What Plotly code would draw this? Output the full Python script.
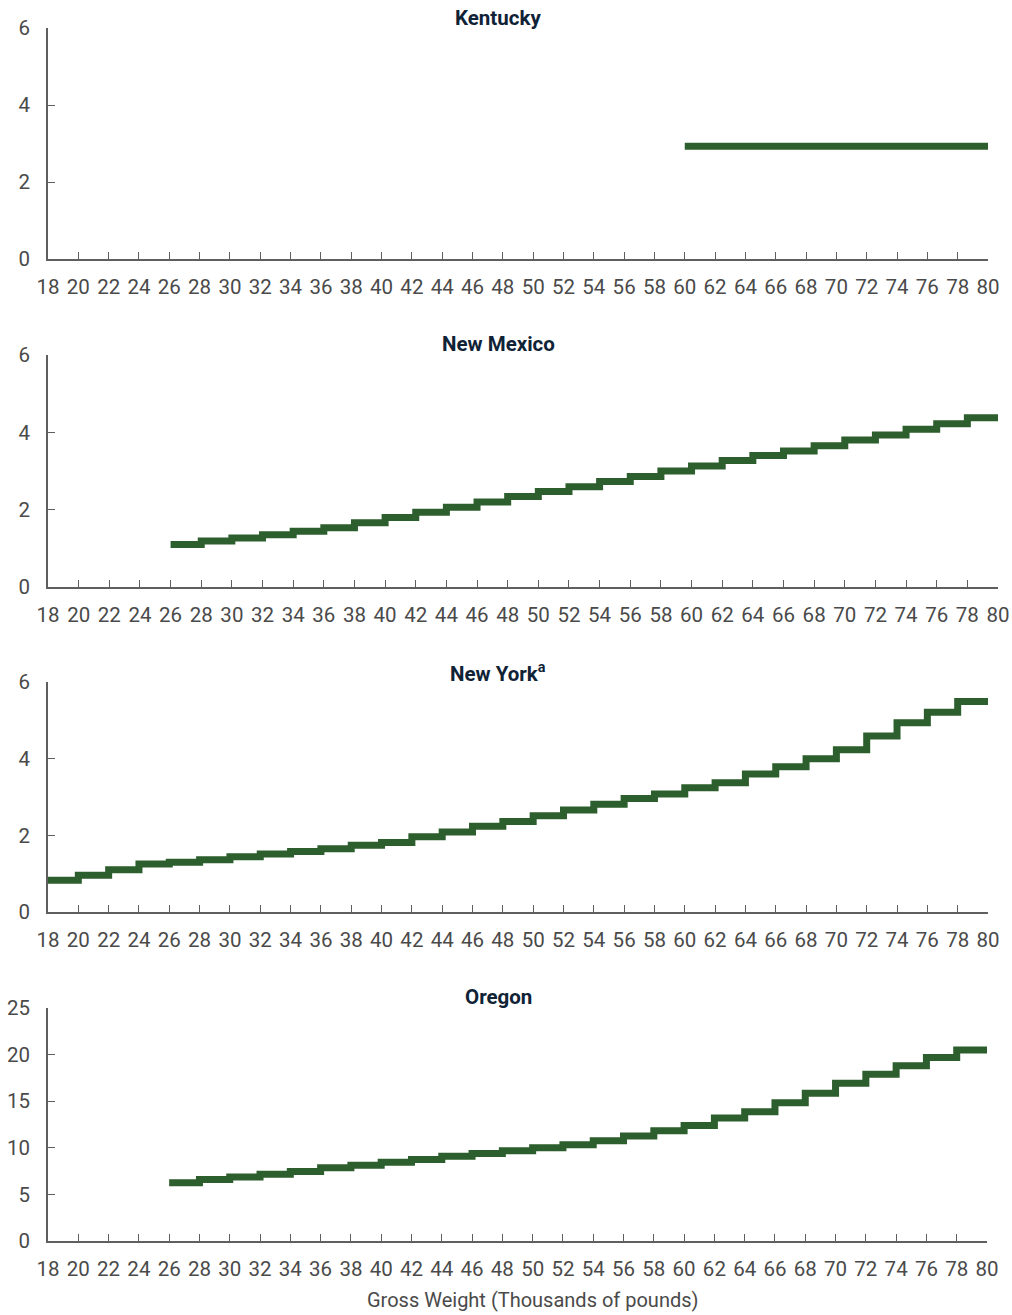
import plotly.graph_objects as go
from plotly.subplots import make_subplots

# Gross weight (thousands of pounds): bracket starts, each bracket spans 2k lbs
weights = list(range(18, 80, 2))  # 18..78
tick_vals = list(range(18, 82, 2))  # 18..80

ky_start = 60
ky_rates = [2.93] * 10  # 60..78

nm_start = 26
nm_rates = [1.10, 1.19, 1.27, 1.35, 1.44, 1.53, 1.66, 1.80, 1.93, 2.06,
            2.20, 2.34, 2.47, 2.59, 2.73, 2.86, 3.00, 3.13, 3.27, 3.40,
            3.52, 3.65, 3.80, 3.93, 4.08, 4.22, 4.38]

ny_start = 18
ny_rates = [0.83, 0.96, 1.10, 1.25, 1.30, 1.36, 1.44, 1.51, 1.58, 1.65,
            1.74, 1.81, 1.96, 2.09, 2.24, 2.36, 2.51, 2.66, 2.81, 2.96,
            3.08, 3.24, 3.37, 3.60, 3.79, 4.00, 4.23, 4.59, 4.94, 5.21, 5.49]

or_start = 26
or_rates = [6.24, 6.60, 6.88, 7.17, 7.46, 7.85, 8.14, 8.46, 8.75, 9.08,
            9.40, 9.68, 10.00, 10.32, 10.75, 11.26, 11.83, 12.40, 13.20, 13.87,
            14.84, 15.85, 16.92, 17.90, 18.80, 19.70, 20.50]

titles = ["Kentucky", "New Mexico", "New York<sup>a</sup>", "Oregon"]
series = [(ky_start, ky_rates), (nm_start, nm_rates), (ny_start, ny_rates), (or_start, or_rates)]
y_ranges = [[0, 6], [0, 6], [0, 6], [0, 25]]
y_dticks = [2, 2, 2, 5]

LINE = "#2c5f2d"
AXIS = "#5f5f5f"
TICKFONT = "#4a4a4a"
TITLE = "#0f2236"
FONT = "Roboto"

fig = make_subplots(rows=4, cols=1)

for i, (start, rates) in enumerate(series):
    xs = [w for w in weights if w >= start][:len(rates)]
    xs = xs + [xs[-1] + 2]
    ys = rates + [rates[-1]]
    fig.add_trace(go.Scatter(x=xs, y=ys, mode="lines", line_shape="hv",
                             line=dict(color=LINE, width=7),
                             showlegend=False, hoverinfo="skip"),
                  row=i + 1, col=1)

# layout geometry (pixels)
W, H = 1012, 1315
ml, mr, mt, mb = 48, 14, 28, 74
pw = W - ml - mr
ph = H - mt - mb
bottom_px = H - mb

def ypap(px):
    return (bottom_px - px) / ph

def xpap(px):
    return (px - ml) / pw

y_domains = [(259, 28), (587, 355), (912, 682), (1241, 1008)]
x_right = [988, 998, 988, 987]
title_y = [18, 344, 672, 997]

for i in range(4):
    n = "" if i == 0 else str(i + 1)
    fig.layout["xaxis" + n].update(
        range=[18, 80], tickvals=tick_vals, ticks="inside", ticklen=7,
        tickcolor=AXIS, tickwidth=1.3, showline=True, linecolor=AXIS, linewidth=1.5,
        showgrid=False, zeroline=False, tickfont=dict(family=FONT, size=20.5, color=TICKFONT),
        ticklabelstandoff=9, automargin=False, domain=[0, xpap(x_right[i])])
    fig.layout["yaxis" + n].update(
        range=y_ranges[i], dtick=y_dticks[i], ticks="inside", ticklen=7,
        tickcolor=AXIS, tickwidth=1.3, showline=True, linecolor=AXIS, linewidth=1.5,
        showgrid=False, zeroline=False, tickfont=dict(family=FONT, size=20.5, color=TICKFONT),
        ticklabelstandoff=12, automargin=False,
        domain=[ypap(y_domains[i][0]), ypap(y_domains[i][1])])
    fig.add_annotation(text="<b>" + titles[i] + "</b>", xref="paper", yref="paper",
                       x=xpap(498), y=ypap(title_y[i]), xanchor="center", yanchor="middle",
                       showarrow=False, font=dict(family=FONT, size=20.5, color=TITLE))

fig.add_annotation(text="Gross Weight (Thousands of pounds)", xref="paper", yref="paper",
                   x=xpap(533), y=ypap(1300), xanchor="center", yanchor="middle",
                   showarrow=False, font=dict(family=FONT, size=20, color=TICKFONT))

fig.update_layout(width=W, height=H, margin=dict(l=ml, r=mr, t=mt, b=mb, autoexpand=False),
                  plot_bgcolor="white", paper_bgcolor="white",
                  font=dict(family=FONT))

fig.write_html("out.html", config={"displayModeBar": False},
               post_script="document.body.style.margin='0px';document.body.style.overflow='hidden';")
